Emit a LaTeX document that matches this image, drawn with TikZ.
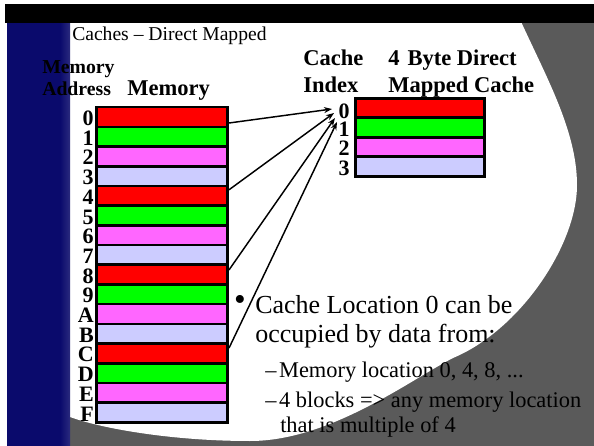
\documentclass[tikz,border=0pt]{standalone}
\usepackage{fontspec}
\setmainfont{Liberation Serif}
\usetikzlibrary{arrows.meta}
\definecolor{navybar}{HTML}{0A0A6C}
\definecolor{navyedge}{HTML}{2A2A7E}
\definecolor{bggray}{HTML}{5A5A5A}
\definecolor{memred}{HTML}{FF0000}
\definecolor{memgreen}{HTML}{00FF00}
\definecolor{mempink}{HTML}{FF66FF}
\definecolor{memlav}{HTML}{CCCCFF}
\begin{document}
\begin{tikzpicture}[x=0.75pt,y=-0.75pt,
  head/.style={font=\bfseries\fontsize{16.9}{18}\selectfont, inner sep=0pt, anchor=base west},
  smallhead/.style={font=\bfseries\fontsize{14.8}{16}\selectfont, inner sep=0pt, anchor=base west},
  addr/.style={font=\bfseries\fontsize{16.5}{17}\selectfont, inner sep=0pt, anchor=base east},
  memblk/.style={draw=black, line width=2pt, minimum width=98.5pt, minimum height=14.8pt, inner sep=0pt},
  cacheblk/.style={draw=black, line width=2pt, minimum width=97pt, minimum height=14.6pt, inner sep=0pt},
  link/.style={line width=1.1pt, -{Stealth[length=6pt,width=4.5pt]}},
  bigtext/.style={font=\fontsize{19.5}{21}\selectfont, inner sep=0pt, anchor=base west},
  subtext/.style={font=\fontsize{16.8}{18}\selectfont, inner sep=0pt, anchor=base west}
]
\useasboundingbox (0,0) rectangle (594,446);
% background
\fill[white] (0,0) rectangle (594,446);
\fill[bggray] (70,20) rectangle (594,446);
\fill[white] (60,15) -- (518,15)
  .. controls (545,75) and (577,130) .. (577,185)
  .. controls (577,245) and (520,330) .. (453,358)
  .. controls (410,380) and (330,441) .. (250,441)
  .. controls (170,441) and (100,428) .. (70,417)
  -- (60,417) -- cycle;
\fill[black] (5,4) rectangle (594,23);
\fill[navybar] (7,23) rectangle (70,446);
\shade[left color=navybar, right color=navyedge] (60,23) rectangle (70,446);

% title
\node[font=\fontsize{14.7}{16}\selectfont, inner sep=0pt, anchor=base west] (title) at (72,40.5) {Caches -- Direct Mapped};

% headings
\node[smallhead] (ma1) at (42,74) {Memory};
\node[smallhead] (ma2) at (42,95) {Address};
\node[head] (memh) at (127,95) {Memory};
\node[head] (ci1) at (303,65) {Cache};
\node[head] (ci2) at (303,93) {Index};
\node[head] (ch1) at (388,65) {4\hspace{6pt}Byte Direct};
\node[head] (ch2) at (388,93) {Mapped Cache};

% memory blocks
\foreach \i/\l/\c in {0/0/memred,1/1/memgreen,2/2/mempink,3/3/memlav,
                      4/4/memred,5/5/memgreen,6/6/mempink,7/7/memlav,
                      8/8/memred,9/9/memgreen,10/A/mempink,11/B/memlav,
                      12/C/memred,13/D/memgreen,14/E/mempink,15/F/memlav}{
  \node[memblk, fill=\c] (m\i) at (162,{117+19.7*\i}) {};
  \node[addr] (ml\i) at (94,{125.5+19.7*\i}) {\l};
}

% cache blocks
\foreach \i/\c in {0/memred,1/memgreen,2/mempink,3/memlav}{
  \node[cacheblk, fill=\c] (c\i) at (420,{108+19.5*\i}) {};
  \node[addr] (cl\i) at (350,{118+19*\i}) {\i};
}

% arrow targets
\coordinate (t1) at (332,109);
\coordinate (t2) at (334,113);
\coordinate (t3) at (335,118);
\coordinate (t4) at (337,122);
\draw[link] ([yshift=-4.5pt]m0.east) -- (t1);
\draw[link] ([yshift=4.5pt]m4.east) -- (t2);
\draw[link] ([yshift=3.5pt]m8.east) -- (t3);
\draw[link] ([yshift=4pt]m12.east) -- (t4);

% bullet text
\node[inner sep=0pt, font=\fontsize{25}{25}\selectfont] (bul) at (240,303) {\textbullet};
\node[bigtext] (b1) at (255,313) {Cache Location 0 can be};
\node[bigtext] (b2) at (255,342) {occupied by data from:};
\node[subtext] (s1) at (265,377) {\textendash\hspace{2pt}Memory location 0, 4, 8, ...};
\node[subtext] (s2) at (265,407) {\textendash\hspace{2pt}4 blocks => any memory location};
\node[subtext] (s3) at (280,432) {that is multiple of 4};
\end{tikzpicture}
\end{document}
